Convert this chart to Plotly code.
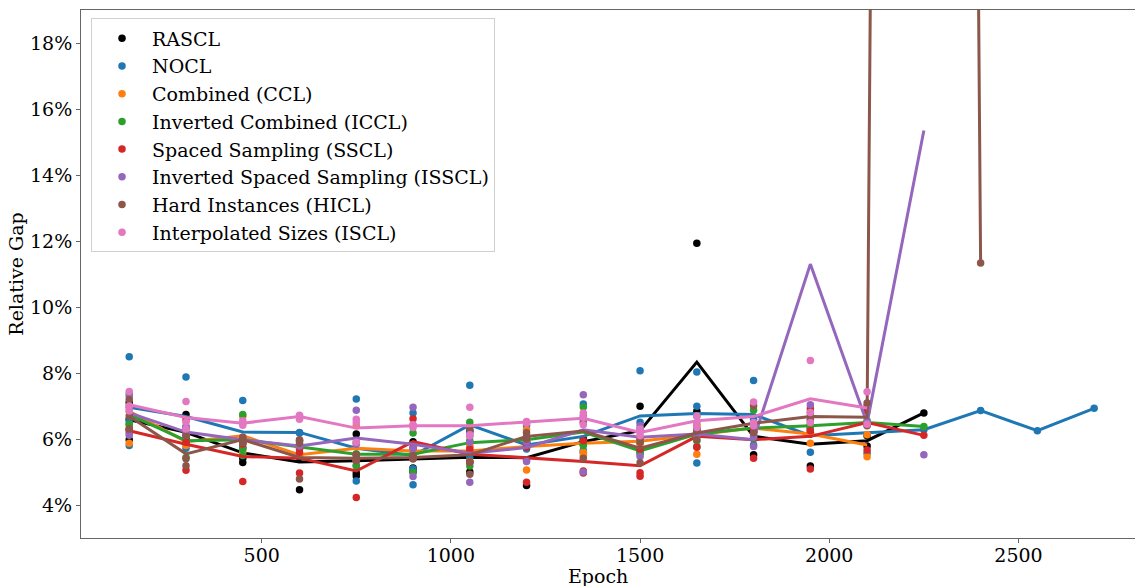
import plotly.graph_objects as go

EPOCHS = [150, 300, 450, 600, 750, 900, 1050, 1200, 1350, 1500, 1650, 1800,
          1950, 2100, 2250, 2400, 2550, 2700]

METHOD_NAMES = ["RASCL", "NOCL", "Combined (CCL)", "Inverted Combined (ICCL)",
                "Spaced Sampling (SSCL)", "Inverted Spaced Sampling (ISSCL)",
                "Hard Instances (HICL)", "Interpolated Sizes (ISCL)"]
METHOD_COLORS = ["#000000", "#1f77b4", "#ff7f0e", "#2ca02c", "#d62728",
                 "#9467bd", "#8c564b", "#e377c2"]

# Individual runs (relative gap, %), one list per epoch
RASCL_RUNS = [[7.1, 6.6, 5.98], [6.74, 6.0, 5.85], [5.42, 5.29, 6.0], [5.45, 4.46, 5.95],
              [6.15, 4.97, 4.88], [5.92, 5.12, 5.01], [6.25, 5.0, 5.3], [4.59, 5.8, 5.9],
              [5.92, 6.0, 5.85], [6.99, 5.95, 5.9], [11.93, 6.84, 6.2], [5.52, 6.5, 6.25],
              [5.18, 6.2, 6.15], [5.79, 6.1], [6.79]]
NOCL_RUNS = [[8.49, 6.53, 5.8], [7.88, 6.38, 5.72], [7.17, 5.72, 5.75], [6.18, 6.2],
             [7.21, 4.73, 5.2], [6.79, 4.61, 5.1], [7.63, 6.2, 5.45], [6.41, 5.37, 5.7],
             [7.06, 5.6, 5.65], [8.07, 6.51, 5.55], [8.03, 6.99, 5.27], [7.77, 5.82, 6.6],
             [5.6, 6.3, 6.4], [5.57, 6.5, 6.45], [6.28], [6.86], [6.25], [6.93]]
CCL_RUNS = [[7.0, 6.84, 5.87], [6.1, 5.8, 5.85], [6.69, 6.0, 5.6], [5.52, 5.55, 5.5],
            [6.4, 5.4, 5.35], [5.7, 5.6, 5.65], [5.32, 5.8, 5.75], [6.28, 5.06, 5.95],
            [5.6, 5.5, 6.5], [5.95, 6.0, 5.85], [5.54, 6.4, 6.45], [6.35, 6.3, 6.35],
            [5.87, 6.3, 6.3], [6.13, 5.46]]
ICCL_RUNS = [[7.36, 6.43, 6.45], [6.3, 5.44, 6.1], [6.74, 5.5, 5.7], [5.75, 5.8],
             [5.9, 5.18, 5.55], [6.18, 4.99, 5.45], [6.51, 5.18, 5.95], [6.0, 5.9, 6.05],
             [6.97, 5.8, 5.85], [5.67, 5.6, 5.65], [6.7, 5.77, 5.95], [6.87, 6.1, 6.0],
             [6.45, 6.4, 6.35], [6.45, 6.55], [6.38]]
SSCL_RUNS = [[6.28, 6.2, 6.3], [6.58, 5.05, 5.9], [4.71, 5.87, 5.85], [5.59, 4.97, 5.7],
             [4.23, 5.5, 5.35], [6.61, 5.4, 5.75], [5.3, 5.6, 5.7], [4.69, 5.9, 5.75],
             [5.03, 4.97, 5.95], [4.98, 4.87, 5.7], [5.75, 6.3, 6.2], [5.42, 6.3, 6.2],
             [6.92, 5.09, 6.25], [5.67, 7.0, 6.85], [6.11]]
ISSCL_RUNS = [[7.29, 6.11, 6.95], [6.13, 6.35, 6.15], [5.95, 6.05, 5.9], [5.79, 5.8],
              [6.87, 5.84, 5.4], [6.96, 4.86, 5.7], [4.69, 5.9, 6.1], [5.32, 5.9, 6.0],
              [7.34, 6.5, 5.0], [5.47, 6.3, 6.4], [6.1, 6.2, 6.15], [5.77, 6.1, 6.05],
              [7.04, 6.6], [6.5, 6.45], [5.52]]
HICL_RUNS = [[7.19, 6.7, 6.3], [5.19, 5.4, 6.1], [5.98, 5.9, 6.05], [5.98, 5.87, 4.79],
             [5.52, 5.35, 5.4], [5.44, 5.5, 5.4], [4.93, 5.3, 6.3], [6.19, 6.0, 6.05],
             [5.42, 6.6, 6.7], [5.28, 6.0, 5.9], [5.98, 6.3, 6.25], [7.01, 6.2, 6.2],
             [6.7, 6.55, 6.8], [7.09, 6.4], [], [11.33]]
ISCL_RUNS = [[7.44, 7.0, 6.85], [7.14, 6.51, 6.3], [6.48, 6.55, 6.42], [6.7, 6.6, 6.72],
             [6.6, 6.5, 5.9], [6.43, 6.35, 6.42], [6.96, 6.13, 6.1], [6.53, 6.5, 6.48],
             [6.79, 6.43, 6.65], [6.3, 6.2, 6.1], [6.5, 6.35, 6.7], [7.12, 6.5, 6.4],
             [8.38, 6.8, 6.5], [7.43, 6.45]]

# Mean curves (relative gap, %)
RASCL_MEAN = [6.58, 6.2, 5.58, 5.30, 5.34, 5.40, 5.45, 5.43, 5.92, 6.25, 8.33, 6.08, 5.84, 5.95, 6.79]
NOCL_MEAN = [6.96, 6.68, 6.21, 6.2, 5.72, 5.5, 6.43, 5.82, 6.08, 6.7, 6.77, 6.74, 6.1, 6.18, 6.28,
             6.86, 6.25, 6.93]
CCL_MEAN = [6.84, 5.92, 6.1, 5.52, 5.72, 5.64, 5.64, 5.77, 5.87, 5.93, 6.13, 6.33, 6.15, 5.82]
ICCL_MEAN = [6.74, 5.95, 5.98, 5.77, 5.54, 5.54, 5.89, 5.98, 6.21, 5.64, 6.15, 6.33, 6.4, 6.5, 6.38]
SSCL_MEAN = [6.25, 5.84, 5.47, 5.42, 5.03, 5.92, 5.54, 5.44, 5.32, 5.19, 6.08, 5.98, 6.08, 6.5, 6.11]
ISSCL_MEAN = [6.79, 6.21, 5.98, 5.79, 6.03, 5.84, 5.57, 5.74, 6.28, 6.05, 6.15, 5.98, 11.3, 6.48, 15.35]
HICL_MEAN = [6.69, 5.55, 5.98, 5.44, 5.42, 5.44, 5.52, 6.08, 6.24, 5.72, 6.18, 6.48, 6.68, 6.66,
             230.0, 11.33]
ISCL_MEAN = [7.04, 6.65, 6.48, 6.68, 6.33, 6.4, 6.4, 6.51, 6.63, 6.2, 6.55, 6.68, 7.22, 6.94]

Y_TICKS = [4, 6, 8, 10, 12, 14, 16, 18]
X_TICKS = [500, 1000, 1500, 2000, 2500]

ALL_RUNS = [RASCL_RUNS, NOCL_RUNS, CCL_RUNS, ICCL_RUNS, SSCL_RUNS, ISSCL_RUNS, HICL_RUNS, ISCL_RUNS]
ALL_MEANS = [RASCL_MEAN, NOCL_MEAN, CCL_MEAN, ICCL_MEAN, SSCL_MEAN, ISSCL_MEAN, HICL_MEAN, ISCL_MEAN]

FONT = "DejaVu Serif"
fig = go.Figure()

for name, color, runs, mean in zip(METHOD_NAMES, METHOD_COLORS, ALL_RUNS, ALL_MEANS):
    xs, ys = [], []
    for ep, vals in zip(EPOCHS, runs):
        for v in vals:
            xs.append(ep)
            ys.append(v / 100)
    fig.add_trace(go.Scatter(x=xs, y=ys, mode="markers", name=name, legendgroup=name,
                             marker=dict(color=color, size=7.5, line=dict(width=0))))
    fig.add_trace(go.Scatter(x=EPOCHS[:len(mean)], y=[m / 100 for m in mean], mode="lines",
                             name=name, legendgroup=name, showlegend=False,
                             line=dict(color=color, width=3)))

fig.update_layout(
    width=1135, height=586,
    margin=dict(l=81, r=0, t=10, b=48),
    paper_bgcolor="white", plot_bgcolor="white",
    font=dict(family=FONT, size=19, color="black"),
    showlegend=True,
    legend=dict(x=0.0095, y=0.984, xanchor="left", yanchor="top",
                bgcolor="rgba(255,255,255,0.8)", bordercolor="#d0d0d0", borderwidth=1,
                font=dict(family=FONT, size=19), itemwidth=50, tracegroupgap=0,
                traceorder="normal"),
    xaxis=dict(range=[22.5, 2808], tickvals=X_TICKS, showgrid=False, zeroline=False,
               showline=True, linecolor="#666", linewidth=1, mirror=True,
               ticks="outside", ticklen=4, tickcolor="#666", ticklabelstandoff=-4,
               tickfont=dict(family=FONT, size=19)),
    yaxis=dict(range=[0.03, 0.19], tickvals=[t / 100 for t in Y_TICKS],
               ticktext=[f"{t}%" for t in Y_TICKS], showgrid=False, zeroline=False,
               showline=True, linecolor="#666", linewidth=1,
               ticks="outside", ticklen=4, tickcolor="#666",
               tickfont=dict(family=FONT, size=19),
               title=dict(text="Relative Gap", font=dict(family=FONT, size=19), standoff=1)),
    annotations=[dict(text="Epoch", x=0.4905, y=-0.047, xref="paper", yref="paper",
                      xanchor="center", yanchor="top", showarrow=False,
                      font=dict(family=FONT, size=19))],
)

fig.write_html("out.html", config={"displayModeBar": False},
               post_script="document.body.style.margin='0';document.body.style.overflow='hidden';")
